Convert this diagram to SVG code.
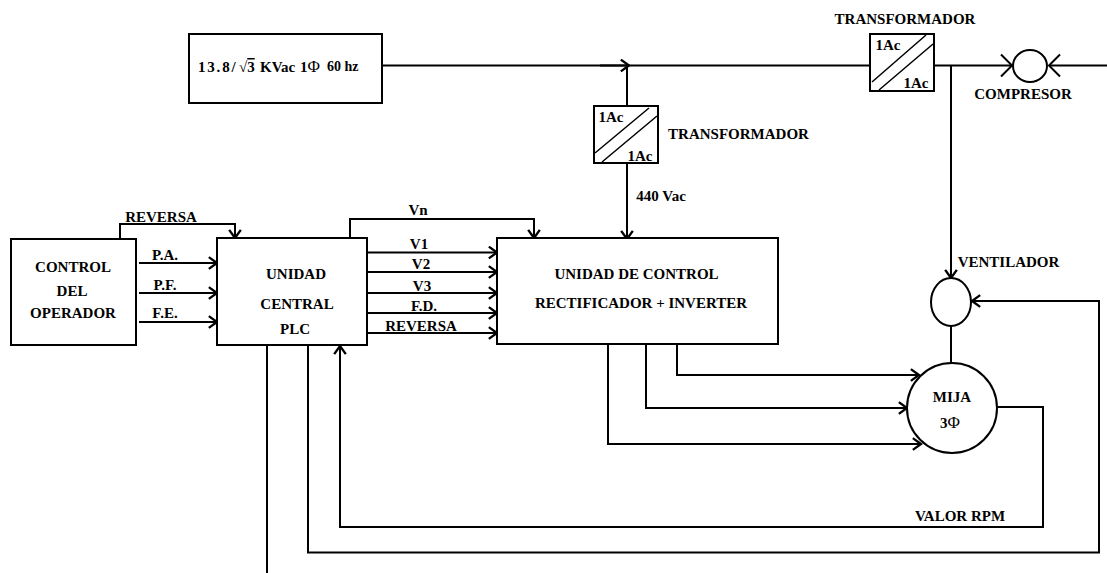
<svg xmlns="http://www.w3.org/2000/svg" width="1107" height="573" viewBox="0 0 1107 573">
<style>
.b{fill:#fff;stroke:#000;stroke-width:2}
.l{fill:none;stroke:#000;stroke-width:2}
.a{fill:none;stroke:#000;stroke-width:2;marker-end:url(#ah)}
.c{fill:none;stroke:#000;stroke-width:2;marker-end:url(#big)}
.t{stroke:#000;stroke-width:1.5;fill:none}
text{font-family:"Liberation Serif","Times New Roman",serif;font-weight:bold;font-size:15px;fill:#000;text-anchor:middle}
.s{text-anchor:start}
.p{font-weight:normal}
</style>
<defs>
<marker id="ah" markerUnits="userSpaceOnUse" markerWidth="14" markerHeight="14" refX="10" refY="6" orient="auto" viewBox="0 0 12 12"><path d="M3 1L10 6L3 11" fill="none" stroke="#000" stroke-width="2"/></marker>
<marker id="big" markerUnits="userSpaceOnUse" markerWidth="26" markerHeight="26" refX="12" refY="13" orient="auto" viewBox="0 0 26 26"><path d="M1 2L12 13L1 24" fill="none" stroke="#000" stroke-width="2"/></marker>
</defs>
<rect width="1107" height="573" fill="#fff"/>
<g id="connectors">
<path class="l" d="M382 65.500H870"/>
<path class="a" d="M600 65.500H629"/>
<path class="l" d="M627 65.500V106"/>
<path class="a" d="M627 163V239"/>
<path class="c" d="M934 65.500H1012"/>
<path class="c" d="M1107 65.500H1049"/>
<path class="a" d="M951 65.500V278"/>
<path class="l" d="M951 326V364"/>
<path class="a" d="M120 239V224H235V238"/>
<path class="a" d="M139 263H217"/>
<path class="a" d="M139 293H217"/>
<path class="a" d="M139 322H217"/>
<path class="a" d="M350 238V219H534V238"/>
<path class="a" d="M367 252.500H497"/>
<path class="a" d="M367 272H497"/>
<path class="a" d="M367 293H497"/>
<path class="a" d="M367 313H497"/>
<path class="a" d="M367 333H497"/>
<path class="a" d="M677 344V375H919"/>
<path class="a" d="M646 344V408H907"/>
<path class="a" d="M608 344V444H921"/>
<path class="a" d="M997 407H1043V527H340V346"/>
<path class="a" d="M308 345V552.500H1099V301H972"/>
<path class="l" d="M267 345V573"/>
</g>
<g id="source"><rect class="b" x="189" y="34" width="193" height="69"/>
<text class="s" x="198" y="72" style="letter-spacing:1.800px">13.8/</text>
<text class="s" x="239" y="72">√<tspan text-decoration="overline">3</tspan></text>
<text class="s" x="260" y="72">KVac</text>
<text class="s" x="300" y="72">1<tspan class="p" font-size="17">Φ</tspan></text>
<text class="s" x="327" y="71" style="font-size:14px">60 hz</text></g>
<g id="transformer-1"><rect class="b" x="594" y="106" width="64" height="57"/>
<path class="t" d="M595 153L649 108M602 162L657 116"/>
<text x="611" y="122">1Ac</text><text x="640" y="161">1Ac</text></g>
<text x="738.500" y="139">TRANSFORMADOR</text>
<g id="transformer-2"><rect class="b" x="870" y="34" width="64" height="57"/>
<path class="t" d="M872 82L926 35M879 90L933 44"/>
<text x="888" y="50">1Ac</text><text x="916" y="88">1Ac</text></g>
<text x="905" y="24">TRANSFORMADOR</text>
<text x="661" y="201">440 Vac</text>
<g id="compresor"><ellipse class="b" cx="1030" cy="66" rx="17" ry="16"/></g>
<text x="1023" y="99">COMPRESOR</text>
<g id="control"><rect class="b" x="11" y="239" width="125" height="106"/>
<text x="73" y="272">CONTROL</text><text x="72" y="296">DEL</text><text x="73" y="318">OPERADOR</text></g>
<g id="plc"><rect class="b" x="217" y="238" width="150" height="107"/>
<text x="296" y="279">UNIDAD</text><text x="297" y="309">CENTRAL</text><text x="295" y="334">PLC</text></g>
<g id="unidad"><rect class="b" x="497" y="238" width="281" height="106"/>
<text x="636.500" y="279">UNIDAD DE CONTROL</text><text x="641" y="308">RECTIFICADOR + INVERTER</text></g>
<g id="ventilador"><ellipse class="b" cx="951" cy="302" rx="20" ry="24"/></g>
<text x="1008.500" y="267">VENTILADOR</text>
<g id="mija"><circle class="b" cx="952" cy="408" r="45"/>
<text x="952" y="402">MIJA</text><text x="950" y="428">3<tspan class="p" font-size="17">Φ</tspan></text></g>
<text x="161" y="222">REVERSA</text>
<text x="165" y="260">P.A.</text><text x="165" y="290">P.F.</text><text x="165" y="318">F.E.</text>
<text x="418" y="215">Vn</text>
<text x="419" y="249">V1</text><text x="421" y="269">V2</text><text x="422" y="291">V3</text><text x="424" y="311">F.D.</text><text x="421" y="331">REVERSA</text>
<text x="960" y="521">VALOR RPM</text>
</svg>
